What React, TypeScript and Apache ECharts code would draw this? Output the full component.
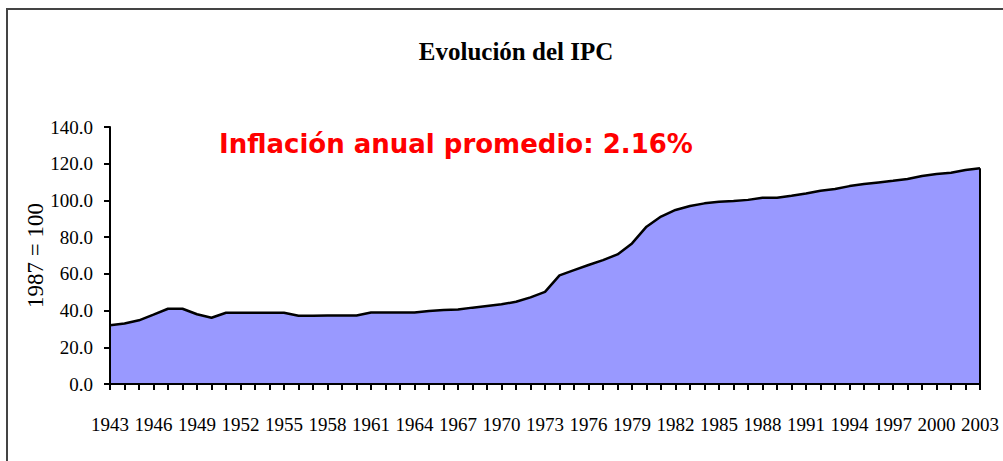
import { useEffect, useRef } from "react";
import * as echarts from "echarts";

const years = [
  "1943", "1944", "1945", "1946", "1947", "1948", "1949", "1950", "1951", "1952",
  "1953", "1954", "1955", "1956", "1957", "1958", "1959", "1960", "1961", "1962",
  "1963", "1964", "1965", "1966", "1967", "1968", "1969", "1970", "1971", "1972",
  "1973", "1974", "1975", "1976", "1977", "1978", "1979", "1980", "1981", "1982",
  "1983", "1984", "1985", "1986", "1987", "1988", "1989", "1990", "1991", "1992",
  "1993", "1994", "1995", "1996", "1997", "1998", "1999", "2000", "2001", "2002",
  "2003",
];

const ipc = [
  32.0, 33.0, 34.7, 37.8, 41.0, 41.0, 38.0, 36.1, 38.8, 38.8,
  38.8, 38.8, 38.8, 37.2, 37.2, 37.3, 37.3, 37.3, 38.9, 38.9,
  38.9, 38.9, 39.8, 40.3, 40.6, 41.6, 42.5, 43.4, 44.8, 47.2,
  50.2, 59.2, 62.0, 64.8, 67.5, 70.6, 76.6, 85.7, 91.2, 94.8,
  97.0, 98.4, 99.3, 99.7, 100.3, 101.5, 101.5, 102.6, 103.8, 105.3,
  106.2, 107.8, 108.9, 109.8, 110.7, 111.7, 113.3, 114.4, 115.1, 116.6,
  117.5,
];

const yMin = 0;
const yMax = 140;
const yStep = 20;

const titleText = "Evolución del IPC";
const noteText = "Inflación anual promedio: 2.16%";
const yAxisName = "1987 = 100";

const serif = "'Times New Roman', 'Liberation Serif', serif";

export default function App() {
  const ref = useRef<HTMLDivElement>(null);

  useEffect(() => {
    const chart = echarts.init(ref.current!, null, { renderer: "svg" });
    const last = years.length - 1;
    chart.setOption({
      animation: false,
      backgroundColor: "#ffffff",
      title: {
        text: titleText,
        left: 511,
        top: 34,
        textAlign: "center",
        textStyle: {
          fontFamily: serif,
          fontWeight: "bold",
          fontSize: 25,
          color: "#000",
        },
      },
      graphic: [
        {
          type: "rect",
          shape: { x: 7, y: 9, width: 1010, height: 470 },
          style: { fill: "none", stroke: "#444", lineWidth: 2 },
          silent: true,
        },
        {
          type: "text",
          x: 219,
          y: 144,
          style: {
            text: noteText,
            fill: "#ff0000",
            fontFamily: "'DejaVu Sans', sans-serif",
            fontWeight: "bold",
            fontSize: 26,
            verticalAlign: "middle",
          },
          z: 10,
        },
      ],
      grid: { left: 110, right: 23, top: 127, bottom: 77 },
      xAxis: {
        type: "category",
        boundaryGap: false,
        data: years,
        z: 5,
        axisLine: { lineStyle: { color: "#000", width: 2 } },
        axisTick: { interval: 0, length: 6, lineStyle: { color: "#000", width: 2 } },
        axisLabel: {
          interval: 2,
          margin: 31,
          fontFamily: serif,
          fontSize: 19,
          color: "#000",
        },
        splitLine: { show: false },
      },
      yAxis: {
        type: "value",
        min: yMin,
        max: yMax,
        interval: yStep,
        z: 5,
        name: yAxisName,
        nameLocation: "middle",
        nameRotate: 90,
        nameGap: 63,
        nameMoveOverlap: false,
        nameTextStyle: { fontFamily: serif, fontSize: 23, color: "#000" },
        axisLine: { show: true, lineStyle: { color: "#000", width: 2 } },
        axisTick: { show: true, length: 6, lineStyle: { color: "#000", width: 2 } },
        axisLabel: {
          margin: 17,
          fontFamily: serif,
          fontSize: 19,
          color: "#000",
          formatter: (v: number) => v.toFixed(1),
        },
        splitLine: { show: false },
      },
      series: [
        {
          type: "line",
          data: ipc,
          symbol: "none",
          lineStyle: { color: "#000", width: 2.5 },
          areaStyle: { color: "#9999ff", opacity: 1 },
          markLine: {
            silent: true,
            symbol: ["none", "none"],
            label: { show: false },
            lineStyle: { color: "#000", width: 2, type: "solid" },
            data: [[{ coord: [years[last], 0] }, { coord: [years[last], ipc[last]] }]],
          },
        },
      ],
    });
    return () => chart.dispose();
  }, []);

  return (
    <div
      ref={ref}
      style={{ position: "fixed", left: 0, top: 0, width: 1003, height: 461, background: "#fff" }}
    />
  );
}
